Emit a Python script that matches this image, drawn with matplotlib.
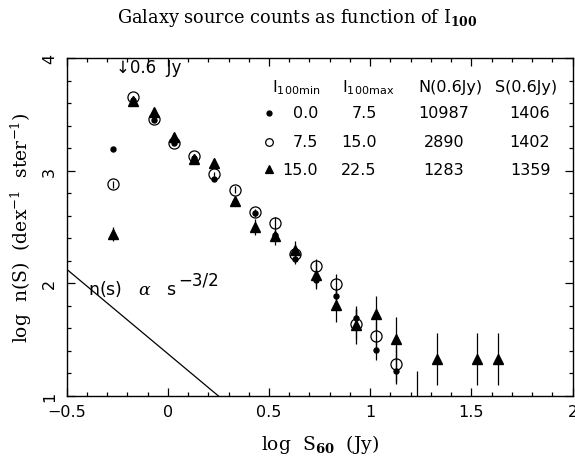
import matplotlib
matplotlib.use('Agg')
import matplotlib.pyplot as plt
import numpy as np

plt.rcParams['mathtext.fontset'] = 'dejavuserif'

# bin centres (log S60)
logS = [-0.27, -0.17, -0.07, 0.03, 0.13, 0.23, 0.33, 0.43, 0.53, 0.63,
        0.73, 0.83, 0.93, 1.03, 1.13, 1.23, 1.33, 1.43, 1.53, 1.63]

# 0.0 < I100 < 7.5  (filled dots)
n_low = [3.19, 3.63, 3.45, 3.25, 3.11, 2.93, 2.72, 2.62, 2.43, 2.22,
         2.03, 1.89, 1.69, 1.41, 1.22, 0.95, None, None, None, None]
e_low = [0.01, 0.01, 0.01, 0.01, 0.01, 0.02, 0.03, 0.03, 0.04, 0.05,
         0.06, 0.07, 0.08, 0.09, 0.11, 0.27, None, None, None, None]

# 7.5 < I100 < 15.0  (open circles)
n_mid = [2.88, 3.65, 3.46, 3.25, 3.13, 2.97, 2.83, 2.63, 2.54, 2.26,
         2.15, 1.99, 1.64, 1.53, 1.285, None, None, None, None, None]
e_mid = [0.03, 0.01, 0.01, 0.01, 0.02, 0.02, 0.03, 0.03, 0.05, 0.06,
         0.07, 0.09, 0.13, 0.14, 0.16, None, None, None, None, None]

# 15.0 < I100 < 22.5  (filled triangles)
n_high = [2.44, 3.62, 3.52, 3.30, 3.10, 3.07, 2.73, 2.50, 2.42, 2.30,
          2.07, 1.81, 1.63, 1.73, 1.51, None, 1.33, None, 1.33, 1.33]
e_high = [0.06, 0.02, 0.02, 0.02, 0.03, 0.03, 0.04, 0.07, 0.08, 0.08,
          0.12, 0.15, 0.17, 0.16, 0.19, None, 0.23, None, 0.23, 0.23]

# table in the upper right
table_rows = [['0.0', '7.5', '10987', '1406'],
              ['7.5', '15.0', '2890', '1402'],
              ['15.0', '22.5', '1283', '1359']]
table_head = [r'I$_{\mathsf{100min}}$', r'I$_{\mathsf{100max}}$', 'N(0.6Jy)', 'S(0.6Jy)']

# reference slope line n(s) ~ s^-3/2
slope = -1.5
line_x = [-0.5, 0.25]
line_y0 = 2.125

S_limit = 0.6  # Jy


def clean(xs, ys, es):
    keep = [i for i in range(len(xs)) if ys[i] is not None]
    return (np.array([xs[i] for i in keep]), np.array([ys[i] for i in keep]),
            np.array([es[i] for i in keep]))


fig = plt.figure(figsize=(5.75, 4.64), dpi=100)
ax = fig.add_axes([0.116, 0.1444, 0.8797, 0.7284])

styles = [dict(fmt='o', ms=3.6, mfc='k', mec='k'),
          dict(fmt='o', ms=8, mfc='none', mec='k', mew=0.9),
          dict(fmt='^', ms=6.5, mfc='k', mec='k')]
for (ys, es), st in zip([(n_low, e_low), (n_mid, e_mid), (n_high, e_high)], styles):
    xx, yy, ee = clean(logS, ys, es)
    ax.errorbar(xx, yy, yerr=ee, ecolor='k', elinewidth=0.9, capsize=0, color='k',
                clip_on=True, **st)

lx = np.array(line_x)
ax.plot(lx, line_y0 + slope * (lx - lx[0]), color='k', lw=0.9)
law = ax.text(-0.395, 1.96, r'n(s)   $\alpha$   s', fontsize=12.5, va='center')
ax.annotate('\u22123/2', xy=(1, 0.5), xycoords=law, xytext=(1, 6),
            textcoords='offset points', fontsize=12, va='center')

ax.text(np.log10(S_limit) - 0.035, 3.92, u'\u2193' + '0.6  Jy', fontsize=12, va='center')

# table
head_x = [0.406, 0.544, 0.695, 0.847]
for hx, h in zip(head_x, table_head):
    ax.text(hx, 0.902, h, transform=ax.transAxes, fontsize=11.5, va='baseline')
row_y = [0.838, 0.753, 0.671]
col_x = [0.497, 0.613, 0.746, 0.916]
col_ha = ['right', 'right', 'center', 'center']
for ry, row, st in zip(row_y, table_rows, styles):
    for cx, ha, val in zip(col_x, col_ha, row):
        ax.text(cx, ry, val, transform=ax.transAxes, fontsize=11.5, ha=ha, va='center')
    ax.plot([0.40], [ry], st['fmt'], ms=3.6 if st['ms'] < 4 else 5.5,
            mfc=st['mfc'], mec='k', mew=0.9, transform=ax.transAxes)

ax.set_xlim(-0.5, 2)
ax.set_ylim(1, 4)
ax.set_xticks([-0.5, 0, 0.5, 1, 1.5, 2])
ax.set_xticklabels(['\u22120.5', '0', '0.5', '1', '1.5', '2'])
ax.set_xticks(np.arange(-0.5, 2.001, 0.1), minor=True)
ax.set_yticks([1, 2, 3, 4])
ax.set_yticks(np.arange(1, 4.001, 0.2), minor=True)
ax.tick_params(which='both', direction='in', top=True, right=True, labelsize=11.5, width=0.9)
ax.tick_params(which='major', length=5.8)
ax.tick_params(which='minor', length=2.9)
ax.tick_params(axis='x', pad=6)
ax.tick_params(axis='y', labelrotation=90, pad=7)
for lab in ax.get_yticklabels():
    lab.set_va('center')
for sp in ax.spines.values():
    sp.set_linewidth(1.0)

ax.set_xlabel(r'log  S$_{\mathbf{60}}$  (Jy)', family='DejaVu Serif', fontsize=13.5, labelpad=9)
ax.set_ylabel(r'log  n(S)  (dex$^{-1}$  ster$^{-1}$)', family='DejaVu Serif', fontsize=13.5,
              labelpad=6)
fig.text(0.517, 0.961, r'Galaxy source counts as function of I$_{\mathbf{100}}$',
         family='DejaVu Serif', fontsize=12.8, ha='center', va='center')

fig.savefig('out.png', dpi=100)
